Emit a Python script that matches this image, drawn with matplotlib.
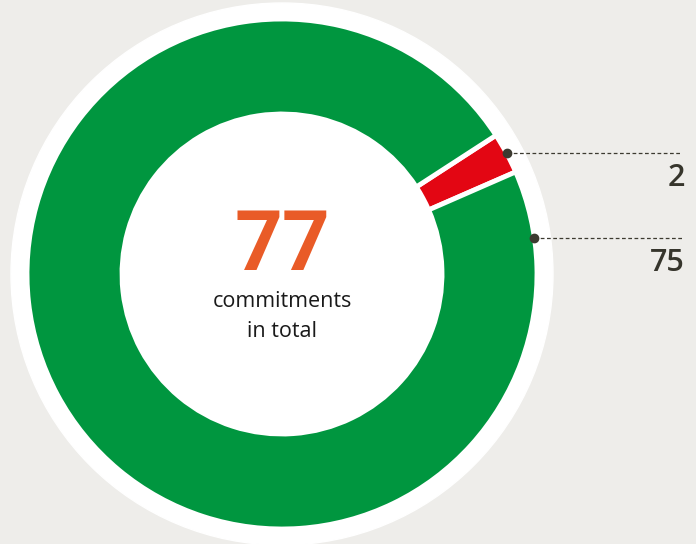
import matplotlib
matplotlib.use("Agg")
from matplotlib import pyplot as plt
from matplotlib.patches import Circle
import numpy as np

# data
values = [2, 75]
labels = ["2", "75"]
colors = ["#E30613", "#00963F"]
total = sum(values)

W, H = 696, 544
cx, cy = 282, H - 274
r_out, r_in = 255, 160

fig = plt.figure(figsize=(W / 100, H / 100), dpi=100)
fig.patch.set_facecolor("#EEEDEA")
ax = fig.add_axes([0, 0, 1, 1])
ax.set_facecolor("#EEEDEA")
ax.axis("off")

ax.add_patch(Circle((cx, cy), 271, color="white", zorder=0))
start = 23.6
wedges, _ = ax.pie(values, colors=colors, radius=r_out, center=(cx, cy),
                   startangle=start, counterclock=True,
                   wedgeprops=dict(width=r_out - r_in, edgecolor="white", linewidth=3.5))
ax.set_xlim(0, W)
ax.set_ylim(0, H)
ax.set_aspect("equal")

# leader lines
dot_angles = [start + values[0] / total * 180, 8.2]
label_base = [H - 186, H - 271]
for ang, lab, yb in zip(dot_angles, labels, label_base):
    a = np.deg2rad(ang)
    x0, y0 = cx + r_out * np.cos(a), cy + r_out * np.sin(a)
    ax.plot([x0, 682], [y0, y0], color="#3C3A30", lw=0.9, ls=(0, (3, 2)), zorder=5)
    ax.plot(x0, y0, "o", color="#3C3A30", ms=6, zorder=6)
    ax.text(685, yb, lab, ha="right", va="baseline", fontsize=22, fontweight="semibold",
            color="#36352C", family=["Open Sans", "DejaVu Sans"])

ax.text(cx, H - 270, str(total), ha="center", va="baseline", fontsize=60, fontweight="bold",
        color="#E95B27", family=["Liberation Sans Narrow", "Roboto", "DejaVu Sans"])
ax.text(cx, H - 307, "commitments", ha="center", va="baseline", fontsize=15.5,
        color="#1A1A1A", family=["Open Sans", "DejaVu Sans"])
ax.text(cx, H - 337, "in total", ha="center", va="baseline", fontsize=15.5,
        color="#1A1A1A", family=["Open Sans", "DejaVu Sans"])

fig.savefig("out.png", dpi=100, facecolor=fig.get_facecolor())
